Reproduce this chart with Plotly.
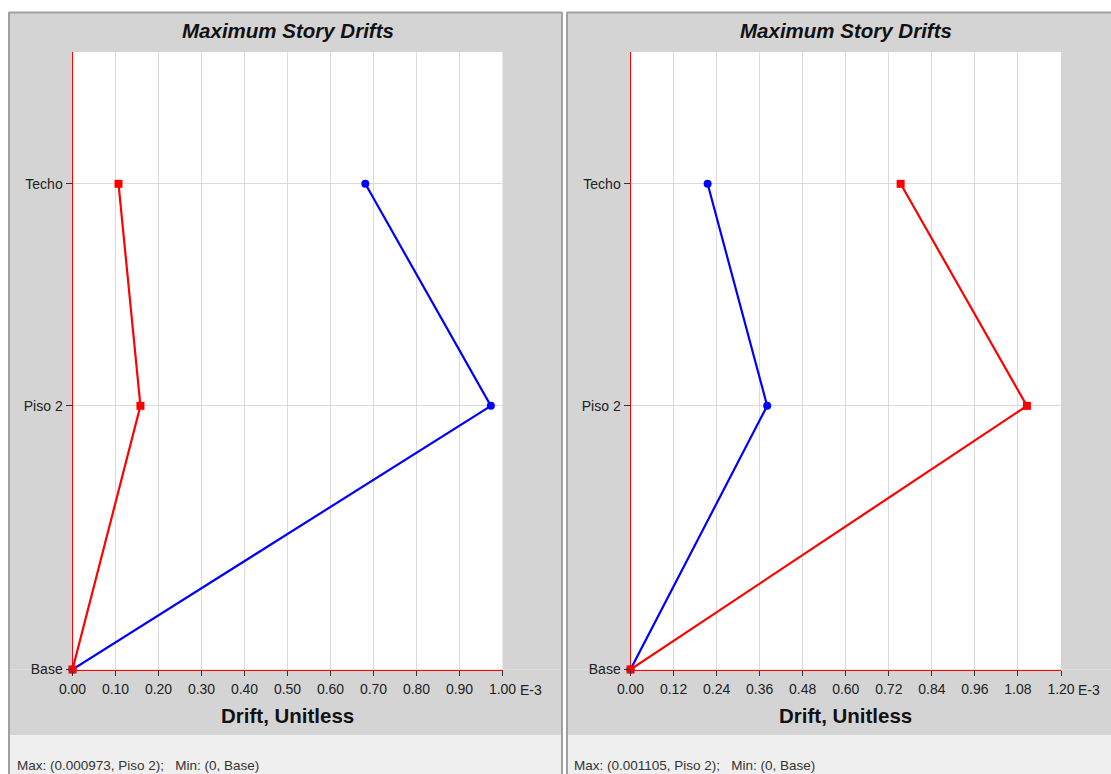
import plotly.graph_objects as go

# Story levels and their elevations (m)
stories = ["Base", "Piso 2", "Techo"]
elevations = [0.0, 3.8, 7.0]
elev_top = 8.9

# Maximum story drifts (unitless) for each load direction, per panel
left_blue = [0.0, 0.000973, 0.000681]
left_red = [0.0, 0.000158, 0.000107]
right_blue = [0.0, 0.000381, 0.000215]
right_red = [0.0, 0.001105, 0.000753]

# Drift axis ticks, in units of E-3
left_ticks = [0.0, 0.1, 0.2, 0.3, 0.4, 0.5, 0.6, 0.7, 0.8, 0.9, 1.0]
right_ticks = [0.0, 0.12, 0.24, 0.36, 0.48, 0.60, 0.72, 0.84, 0.96, 1.08, 1.20]

W, H = 1111, 774
SCALE = 1e3  # drift shown as E-3

BLUE = "#0000ff"
RED = "#ff0000"
PANEL = "#d4d4d4"
STATUS = "#efefef"
BORDER = "#a0a0a0"
GRID = "#dadada"
FONT = "Liberation Sans, Arial, sans-serif"


def fx(px):
    return px / W


def fy(py):
    return 1 - py / H


panels = [
    dict(x0=72.5, x1=502.5, ticks=left_ticks, series=(left_blue, left_red),
         frame=(9, 562), xa="x", ya="y", status_x=15),
    dict(x0=630.5, x1=1061, ticks=right_ticks, series=(right_blue, right_red),
         frame=(567, 1112), xa="x2", ya="y2", status_x=572),
]

plot_top, plot_bottom = 52, 669.5
panel_top, status_top = 12, 735


def rect(x0, x1, y0, y1, color):
    return dict(type="rect", xref="paper", yref="paper", layer="below",
                x0=fx(x0), x1=fx(x1), y0=fy(y1), y1=fy(y0),
                fillcolor=color, line=dict(width=0))


def line(x0, x1, y0, y1):
    return dict(type="line", xref="paper", yref="paper", layer="below",
                x0=fx(x0), x1=fx(x1), y0=fy(y0), y1=fy(y1),
                line=dict(color=BORDER, width=2))


fig = go.Figure()
shapes = []
annotations = []
layout_axes = {}

for i, p in enumerate(panels):
    blue, red = p["series"]
    xa, ya = p["xa"], p["ya"]

    fig.add_trace(go.Scatter(
        x=[v * SCALE for v in blue], y=elevations, xaxis=xa, yaxis=ya,
        mode="lines+markers", line=dict(color=BLUE, width=2.2),
        marker=dict(symbol="circle", size=8, color=BLUE),
        cliponaxis=False, hoverinfo="skip"))
    fig.add_trace(go.Scatter(
        x=[v * SCALE for v in red], y=elevations, xaxis=xa, yaxis=ya,
        mode="lines+markers", line=dict(color=RED, width=2.2),
        marker=dict(symbol="square", size=8, color=RED),
        cliponaxis=False, hoverinfo="skip"))

    ticks = p["ticks"]
    axis_common = dict(
        showgrid=True, gridcolor=GRID, gridwidth=1,
        showline=True, linecolor=RED, linewidth=1,
        ticks="outside", tickcolor="#333333", tickwidth=1,
        tickfont=dict(family=FONT, size=14, color="#222222"),
        zeroline=False, fixedrange=True, automargin=False,
    )
    xkey = "xaxis" if i == 0 else "xaxis2"
    ykey = "yaxis" if i == 0 else "yaxis2"
    layout_axes[xkey] = dict(
        axis_common, domain=[fx(p["x0"]), fx(p["x1"])], anchor=ya,
        range=[0, ticks[-1]], tickmode="array", tickvals=ticks,
        ticktext=[f"{t:.2f}" for t in ticks], ticklen=5, ticklabelstandoff=2)
    layout_axes[ykey] = dict(
        axis_common, domain=[fy(plot_bottom), fy(plot_top)], anchor=xa,
        range=[0, elev_top], tickmode="array", tickvals=elevations,
        ticktext=stories, ticklen=6)

    # exponent suffix beside the last drift tick label
    annotations.append(dict(
        text="E-3", xref=xa, yref="paper", x=ticks[-1], y=fy(690),
        xanchor="left", yanchor="middle", xshift=15, showarrow=False,
        font=dict(family=FONT, size=14, color="#222222")))

    # chart title and axis title
    annotations.append(dict(
        text="<b><i>Maximum Story Drifts</i></b>", xref=f"{xa} domain",
        yref="paper", x=0.5, y=fy(31), xanchor="center", yanchor="middle",
        showarrow=False, font=dict(family=FONT, size=20.5, color="#111111")))
    annotations.append(dict(
        text="<b>Drift, Unitless</b>", xref=f"{xa} domain", yref="paper",
        x=0.5, y=fy(715), xanchor="center", yanchor="middle",
        showarrow=False, font=dict(family=FONT, size=20.5, color="#111111")))

    # status line with the extreme drift values
    all_vals = [(v, stories[k]) for s in (blue, red) for k, v in enumerate(s)]
    vmax, smax = max(all_vals, key=lambda t: t[0])
    vmin, smin = min(all_vals, key=lambda t: t[0])
    sp = "\u00a0"
    status = (f"Max: ({vmax:.6f}, {smax});{sp*3}"
              f"Min: ({vmin:g}, {smin})")
    annotations.append(dict(
        text=status.replace(" ", sp), xref="paper", yref="paper",
        x=fx(p["status_x"]), y=fy(765), xanchor="left", yanchor="middle",
        showarrow=False, font=dict(family=FONT, size=13.5, color="#333333")))

    # grey panel around the plotting area, status bar and frame
    fl, fr = p["frame"]
    x0, x1 = p["x0"], p["x1"]
    shapes += [
        rect(fl, fr, panel_top, plot_top, PANEL),
        rect(fl, fr, plot_bottom, status_top, PANEL),
        rect(fl, x0, plot_top, plot_bottom, PANEL),
        rect(x1, fr, plot_top, plot_bottom, PANEL),
        rect(fl, fr, status_top, H + 1, STATUS),
        line(fl, fr, panel_top + 0.5, panel_top + 0.5),
        line(fl, fl, panel_top, H + 1),
    ]
    if i == 0:
        shapes.append(line(fr, fr, panel_top, H + 1))

fig.update_layout(
    width=W, height=H, autosize=False,
    margin=dict(l=0, r=0, t=0, b=0, pad=0, autoexpand=False),
    paper_bgcolor="white", plot_bgcolor="white",
    showlegend=False, shapes=shapes, annotations=annotations,
    font=dict(family=FONT),
    **layout_axes,
)

fig.write_html("out.html", config={"displayModeBar": False})
